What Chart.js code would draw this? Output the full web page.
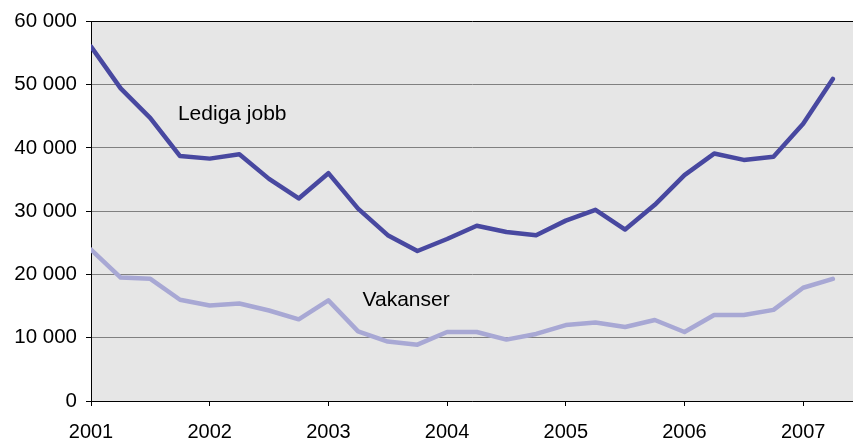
<!DOCTYPE html>
<html>
<head>
<meta charset="utf-8">
<script src="https://cdn.jsdelivr.net/npm/chart.js@4/dist/chart.umd.min.js"></script>
<style>
  html, body { margin: 0; padding: 0; background: #ffffff; }
  #wrap { width: 853px; height: 441px; }
</style>
</head>
<body>
<div id="wrap"><canvas id="c" width="853" height="441"></canvas></div>
<script>
// Quarterly categories, 2001 Q1 .. 2007 Q2
const quarters = [
  '2001K1','2001K2','2001K3','2001K4',
  '2002K1','2002K2','2002K3','2002K4',
  '2003K1','2003K2','2003K3','2003K4',
  '2004K1','2004K2','2004K3','2004K4',
  '2005K1','2005K2','2005K3','2005K4',
  '2006K1','2006K2','2006K3','2006K4',
  '2007K1','2007K2'
];
const yearLabels = ['2001','2002','2003','2004','2005','2006','2007'];

const ledigaJobb = [
  56000, 49400, 44700, 38700,
  38300, 39000, 35100, 32000,
  36000, 30400, 26200, 23700,
  25600, 27700, 26700, 26200,
  28500, 30200, 27100, 31000,
  35700, 39100, 38100, 38600,
  43800, 50900
];
const vakanser = [
  23900, 19500, 19300, 16000,
  15100, 15400, 14300, 12900,
  15900, 11000, 9400, 8900,
  10900, 10900, 9700, 10600,
  12000, 12400, 11700, 12800,
  10900, 13600, 13600, 14400,
  17900, 19300
];
const yTicks = [0, 10000, 20000, 30000, 40000, 50000, 60000];

const toPts = arr => arr.map((v, i) => ({ x: i, y: v }));

const bgPlugin = {
  id: 'plotBg',
  beforeDraw(chart) {
    const { ctx, chartArea: a } = chart;
    ctx.save();
    ctx.fillStyle = '#e6e6e6';
    ctx.fillRect(a.left, a.top, a.right - a.left, a.bottom - a.top);
    ctx.restore();
  }
};

const labelPlugin = {
  id: 'seriesLabels',
  afterDatasetsDraw(chart) {
    const { ctx, scales } = chart;
    const items = [
      { text: 'Lediga jobb', x: 2.93, y: 45300 },
      { text: 'Vakanser', x: 9.15, y: 15900 }
    ];
    ctx.save();
    ctx.fillStyle = '#000000';
    ctx.font = '21px "Liberation Sans", Arial, sans-serif';
    ctx.textAlign = 'left';
    ctx.textBaseline = 'middle';
    items.forEach(it => {
      ctx.fillText(it.text, scales.x.getPixelForValue(it.x), scales.y.getPixelForValue(it.y));
    });
    ctx.restore();
  }
};

new Chart(document.getElementById('c'), {
  type: 'line',
  data: {
    labels: quarters,
    datasets: [
      {
        label: 'Lediga jobb',
        data: toPts(ledigaJobb),
        borderColor: '#4848a0',
        borderWidth: 4.5,
        pointRadius: 0,
        tension: 0,
        borderCapStyle: 'round',
        borderJoinStyle: 'round',
        fill: false
      },
      {
        label: 'Vakanser',
        data: toPts(vakanser),
        borderColor: '#a8a8d4',
        borderWidth: 4.5,
        pointRadius: 0,
        tension: 0,
        borderCapStyle: 'round',
        borderJoinStyle: 'round',
        fill: false
      }
    ]
  },
  options: {
    responsive: false,
    animation: false,
    layout: { padding: { top: 20, right: 0, left: 0, bottom: 0 } },
    plugins: {
      legend: { display: false },
      tooltip: { enabled: false }
    },
    scales: {
      x: {
        type: 'linear',
        min: 0,
        max: 25.68,
        afterFit(s) { s.height = 40; },
        border: { display: true, color: '#000000', width: 1 },
        grid: { drawOnChartArea: false, drawTicks: true, tickLength: 5, tickColor: '#000000' },
        ticks: {
          stepSize: 4,
          includeBounds: false,
          autoSkip: false,
          maxRotation: 0,
          padding: 14,
          color: '#000000',
          font: { family: '"Liberation Sans Narrow", "Arial Narrow", "Liberation Sans", sans-serif', size: 20 },
          callback: (v) => (v % 4 === 0 ? yearLabels[v / 4] : '')
        }
      },
      y: {
        min: 0,
        max: 60000,
        afterFit(s) { s.width = 91; },
        afterBuildTicks(s) { s.ticks = yTicks.map(v => ({ value: v })); },
        border: { display: true, color: '#000000', width: 1 },
        grid: {
          color: (c) => (c.tick && c.tick.value === 60000 ? '#000000' : '#808080'),
          lineWidth: 1,
          drawTicks: true,
          tickLength: 5,
          tickColor: '#000000'
        },
        ticks: {
          padding: 9,
          color: '#000000',
          font: { family: '"Liberation Sans", Arial, sans-serif', size: 20.5 },
          callback: (v) => String(v).replace(/\B(?=(\d{3})+(?!\d))/g, ' ')
        }
      }
    }
  },
  plugins: [bgPlugin, labelPlugin]
});
</script>
</body>
</html>
